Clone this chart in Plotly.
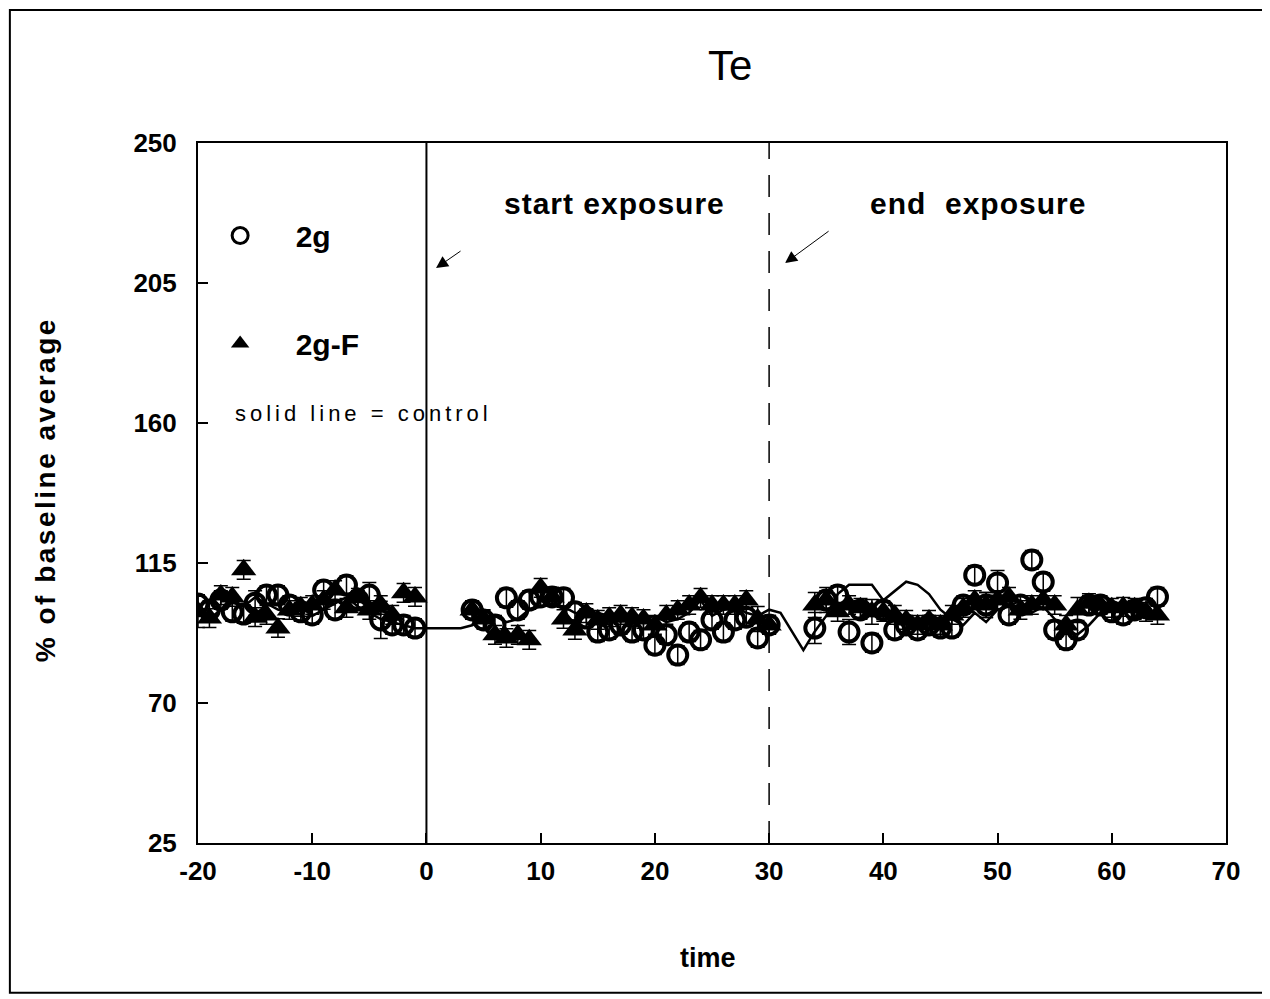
import plotly.graph_objects as go

# ---------------- data ----------------
t_2g = list(range(-20, 0)) + list(range(4, 31)) + list(range(34, 65))
v_2g = [101.8, 99.9, 103.1, 99.3, 98.6, 102.1, 104.7, 104.7, 101.5, 99.3,
        98.3, 106.3, 99.9, 107.9, 103.1, 104.7, 96.7, 95.1, 95.1, 94.1,
        99.9, 96.7, 95.1, 103.8, 99.9, 103.1, 104.1, 104.1, 103.8, 99.3,
        97.3, 92.8, 93.5, 95.1, 92.8, 93.5, 88.6, 91.9, 85.4, 92.8,
        90.3, 96.7, 92.8, 96.7, 97.6, 90.9, 95.1,
        94.1, 103.1, 104.7, 92.8, 99.9, 89.3, 99.9, 93.5, 95.1, 93.5,
        95.1, 94.1, 94.1, 101.5, 111.1, 101.5, 108.6, 98.3, 101.5, 116.0,
        108.9, 93.5, 90.3, 93.5, 101.5, 101.5, 99.3, 98.3, 99.9, 100.6, 104.1]
e_2g = [3, 3, 3, 3, 3, 4, 3, 3, 3, 3,
        3, 3, 3, 3, 3, 4, 6, 3, 3, 3,
        3, 3, 3, 3, 3, 3, 3, 3, 3, 3,
        3, 3, 3, 3, 3, 3, 3, 3, 3, 3,
        3, 3, 3, 3, 3, 3, 3,
        5, 3, 3, 4, 3, 3, 3, 3, 3, 3,
        3, 3, 3, 3, 3, 4, 4, 3, 3, 3,
        3, 3, 3, 3, 3, 3, 3, 3, 3, 3, 3]

t_2gF = list(range(-20, 0)) + list(range(4, 31)) + list(range(34, 65))
v_2gF = [99.3, 97.3, 104.7, 104.1, 112.8, 97.6, 98.3, 94.1, 99.9, 100.9,
         101.5, 103.1, 106.3, 100.6, 103.8, 99.9, 101.5, 98.3, 105.4, 104.1,
         99.9, 97.0, 91.9, 90.9, 91.9, 90.3, 107.0, 104.1, 97.0, 93.5,
         98.9, 96.7, 97.6, 98.3, 97.6, 97.0, 95.1, 98.3, 99.9, 101.5,
         103.8, 101.5, 101.5, 101.5, 103.1, 97.0, 95.1,
         101.5, 103.1, 99.3, 101.5, 100.6, 99.3, 99.3, 98.3, 96.7, 95.1,
         96.7, 95.1, 98.3, 100.6, 103.1, 101.5, 103.1, 104.1, 99.9, 101.5,
         103.1, 101.5, 95.1, 99.9, 102.1, 101.5, 100.6, 100.9, 100.6, 99.3, 98.3]
e_2gF = [5, 3, 3, 3, 3, 3, 3, 3, 3, 3,
         3, 3, 3, 3, 3, 3, 3, 3, 3, 3,
         3, 3, 3, 3, 3, 3, 3, 3, 3, 3,
         3, 3, 3, 3, 3, 3, 3, 3, 3, 3,
         3, 3, 3, 3, 3, 4, 3,
         4, 4, 3, 3, 3, 4, 3, 3, 3, 3,
         3, 3, 3, 3, 3, 4, 3, 3, 3, 3,
         3, 3, 3, 4, 3, 3, 3, 3, 3, 3, 3]

t_ctrl = list(range(-20, 65))
v_ctrl = [101, 97, 100, 103, 101, 104, 102, 100, 99, 101,
          98, 100, 102, 104, 101, 99, 97, 96, 95, 94,
          94, 94, 94, 94, 95, 97, 98, 96, 97, 100,
          101, 102, 101, 99, 98, 99, 98, 97, 96, 97,
          98, 96, 97, 99, 103, 98, 100, 101, 99, 98,
          100, 99, 93, 87, 93, 98, 105, 108, 108, 108,
          103, 106, 109, 108, 105, 100, 97, 95, 99, 96,
          100, 101, 103, 99, 101, 97, 93, 92, 95, 99,
          100, 99, 101, 98, 97]

x_ticks = [-20, -10, 0, 10, 20, 30, 40, 50, 60, 70]
y_ticks = [25, 70, 115, 160, 205, 250]
exposure_start = 0
exposure_end = 30

FONT = "Liberation Sans, Arial, sans-serif"

fig = go.Figure()

fig.add_trace(go.Scatter(x=t_ctrl, y=v_ctrl, mode="lines",
                         line=dict(color="black", width=2.5),
                         showlegend=False, hoverinfo="skip"))

fig.add_trace(go.Scatter(x=t_2gF, y=v_2gF, mode="markers",
                         marker=dict(symbol="triangle-up", size=22, color="black",
                                     line=dict(width=0)),
                         error_y=dict(type="data", array=e_2gF, color="black",
                                      thickness=1.5, width=7),
                         showlegend=False))

fig.add_trace(go.Scatter(x=t_2g, y=v_2g, mode="markers",
                         marker=dict(symbol="circle-open", size=19, color="black",
                                     line=dict(width=4, color="black")),
                         error_y=dict(type="data", array=e_2g, color="black",
                                      thickness=1.5, width=7),
                         showlegend=False))

# legend-only traces
fig.add_trace(go.Scatter(x=[None], y=[None], mode="markers", name="2g",
                         legendgroup="a",
                         marker=dict(symbol="circle-open", size=17, color="black",
                                     line=dict(width=3, color="black"))))
fig.add_trace(go.Scatter(x=[None], y=[None], mode="markers", name="2g-F",
                         legendgroup="b",
                         marker=dict(symbol="triangle-up", size=21, color="black")))

fig.add_shape(type="line", xref="x", yref="paper", x0=exposure_start, x1=exposure_start,
              y0=0, y1=1, line=dict(color="black", width=2))
fig.add_shape(type="line", xref="x", yref="paper", x0=exposure_end, x1=exposure_end,
              y0=0, y1=1, line=dict(color="black", width=1.5, dash="22px,16px"))

# outer frame
fig.add_shape(type="rect", xref="paper", yref="paper",
              x0=-0.183, x1=1.043, y0=-0.214, y1=1.19,
              line=dict(color="black", width=2))

B = dict(family=FONT, color="black", weight="bold")
ann = []
ann.append(dict(text="Te", xref="paper", yref="paper", x=0.5175, y=1.111,
                xanchor="center", yanchor="middle", showarrow=False,
                font=dict(family=FONT, size=42, color="black")))
ann.append(dict(text="time", xref="paper", yref="paper", x=0.496, y=-0.164,
                xanchor="center", yanchor="middle", showarrow=False,
                font=dict(size=27, **B)))
ann.append(dict(text='<span style="letter-spacing:2.5px">% of baseline average</span>',
                xref="paper", yref="paper",
                x=-0.1488, y=0.504, xanchor="center", yanchor="middle",
                textangle=-90, showarrow=False, font=dict(size=28, **B)))
ann.append(dict(text='<span style="letter-spacing:1px">start exposure</span>',
                x=16.5, y=230.7, showarrow=False,
                xanchor="center", yanchor="middle", font=dict(size=30, **B)))
ann.append(dict(text='<span style="letter-spacing:1px">end  exposure</span>',
                x=48.3, y=230.7, showarrow=False,
                xanchor="center", yanchor="middle", font=dict(size=30, **B)))
ann.append(dict(text='<span style="letter-spacing:4px">solid line = control</span>',
                x=-16.9, y=163.2, xanchor="left", yanchor="middle",
                showarrow=False, font=dict(family=FONT, size=22, color="black")))
ann.append(dict(text="", x=0.84, y=209.8, ax=26, ay=-18, showarrow=True,
                arrowhead=2, arrowsize=2.4, arrowwidth=1, arrowcolor="black"))
ann.append(dict(text="", x=31.4, y=211.4, ax=45, ay=-33, showarrow=True,
                arrowhead=2, arrowsize=2.4, arrowwidth=1, arrowcolor="black"))

fig.update_layout(
    width=1270, height=999,
    margin=dict(l=190, r=52, t=135, b=164),
    paper_bgcolor="white", plot_bgcolor="white",
    annotations=ann,
    showlegend=True,
    legend=dict(x=-0.013, y=0.905, xanchor="left", yanchor="top",
                bgcolor="rgba(0,0,0,0)", borderwidth=0,
                font=dict(size=30, **B),
                tracegroupgap=66, itemwidth=101),
    xaxis=dict(range=[-20, 70], tickvals=x_ticks, ticktext=[str(v) for v in x_ticks],
               ticks="inside", ticklen=10, ticklabelstandoff=4,
               tickwidth=1.5, tickcolor="black", showgrid=False, zeroline=False,
               showline=True, linecolor="black", linewidth=2, mirror=True,
               tickfont=dict(size=26, **B)),
    yaxis=dict(range=[25, 250], tickvals=y_ticks, ticktext=[str(v) for v in y_ticks],
               ticks="inside", ticklen=10, ticklabelstandoff=14,
               tickwidth=1.5, tickcolor="black", showgrid=False, zeroline=False,
               showline=True, linecolor="black", linewidth=2, mirror=True,
               tickfont=dict(size=26, **B)),
)

fig.write_html("out.html")
